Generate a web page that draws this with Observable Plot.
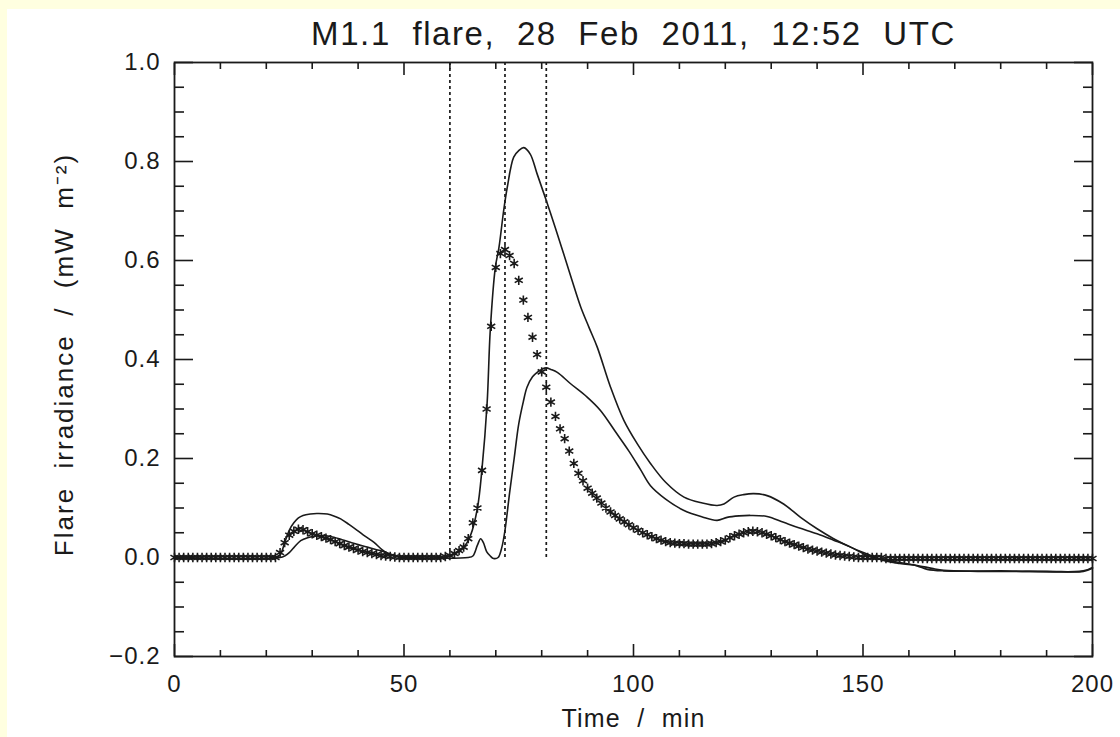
<!DOCTYPE html>
<html><head><meta charset="utf-8">
<script src="https://cdn.jsdelivr.net/npm/d3@7"></script>
<script src="https://cdn.jsdelivr.net/npm/@observablehq/plot@0.6"></script>
<style>
html,body{margin:0;padding:0;background:#ffffe0;width:1120px;height:737px;overflow:hidden}
#wrap{position:absolute;left:7px;top:9px;width:1113px;height:728px;background:#fff}
#fig{position:absolute;left:0;top:0}
</style></head><body>
<div id="wrap"><div id="fig"></div></div>
<script>
// ---- data ----
const titleText = "M1.1  flare,  28  Feb  2011,  12:52  UTC";
const xLabel = "Time  /  min";
const yLabel = "Flare  irradiance  /  (mW  m\u207B\u00B2)";

const xMajor = [0, 50, 100, 150, 200];
const xMinor = [10, 20, 30, 40, 60, 70, 80, 90, 110, 120, 130, 140, 160, 170, 180, 190];
const yMajor = [-0.2, 0.0, 0.2, 0.4, 0.6, 0.8, 1.0];
const yMinor = [-0.15, -0.1, -0.05, 0.05, 0.1, 0.15, 0.25, 0.3, 0.35, 0.45, 0.5, 0.55, 0.65, 0.7, 0.75, 0.85, 0.9, 0.95];

const markTimes = [60, 72, 81];

// upper solid curve (time, value)
const upperT = [0, 22, 23, 24, 25, 26, 27, 28, 29.6, 31, 33.3, 35, 36.2, 38, 39.8, 41.5, 43.4, 45.2, 46.5, 48, 50, 58, 60, 62, 63, 64.5, 66, 67, 68.1, 68.8, 69.9, 70.7, 71.7, 72.5, 73.9, 75, 76.1, 77.5, 79, 81, 83, 84.8, 86.6, 88.5, 90.3, 92.1, 95, 97.9, 100.8, 103.7, 107, 111, 115, 118.2, 119.7, 121.9, 124, 126.2, 129.1, 132.7, 136.4, 140, 143.6, 147.3, 150.9, 154.5, 158, 161.8, 165, 167.6, 175, 190, 198, 200];
const upperV = [0, 0, 0.005, 0.03, 0.055, 0.07, 0.08, 0.085, 0.088, 0.089, 0.088, 0.083, 0.078, 0.067, 0.055, 0.043, 0.031, 0.016, 0.008, 0.003, 0, 0, 0.003, 0.012, 0.02, 0.045, 0.1, 0.18, 0.31, 0.46, 0.586, 0.627, 0.7, 0.748, 0.809, 0.822, 0.828, 0.815, 0.775, 0.721, 0.665, 0.613, 0.56, 0.506, 0.465, 0.425, 0.344, 0.277, 0.23, 0.19, 0.152, 0.122, 0.11, 0.105, 0.108, 0.122, 0.127, 0.129, 0.125, 0.108, 0.081, 0.058, 0.038, 0.021, 0.007, -0.006, -0.012, -0.016, -0.022, -0.026, -0.028, -0.028, -0.028, -0.022];

// lower solid curve
const lowerT = [0, 23, 24, 25, 26, 27.5, 29, 31.1, 33, 34.7, 36.5, 38.3, 40, 42, 44.8, 47, 49, 51, 64, 65, 66, 66.7, 67.3, 68, 68.8, 69.5, 70.5, 71.3, 72, 73, 74, 75, 76, 76.8, 78, 79, 80, 81, 82, 83.4, 86.3, 89.9, 92.8, 96, 99, 101.5, 103.7, 107, 111, 115, 118.2, 120.4, 123, 125.5, 129.1, 132.7, 136, 140, 143.6, 147.3, 150.9, 154, 158, 161.8, 164, 167.6, 180, 198, 200];
const lowerV = [0, 0, 0.003, 0.01, 0.02, 0.034, 0.04, 0.044, 0.044, 0.041, 0.036, 0.031, 0.026, 0.021, 0.014, 0.007, 0.002, 0, 0, 0.003, 0.025, 0.038, 0.03, 0.012, 0.003, -0.002, 0, 0.02, 0.055, 0.13, 0.2, 0.27, 0.315, 0.344, 0.365, 0.374, 0.38, 0.383, 0.38, 0.374, 0.351, 0.324, 0.297, 0.255, 0.215, 0.178, 0.145, 0.118, 0.095, 0.082, 0.075, 0.081, 0.084, 0.085, 0.083, 0.071, 0.06, 0.048, 0.035, 0.021, 0.004, -0.004, -0.01, -0.017, -0.024, -0.027, -0.027, -0.027, -0.02];

// asterisk series, one sample per minute from t = 0 to 200
const starV = [
  0, 0, 0, 0, 0, 0, 0, 0, 0, 0,
  0, 0, 0, 0, 0, 0, 0, 0, 0, 0,
  0, 0, 0, 0.01, 0.03, 0.045, 0.053, 0.057, 0.056, 0.052,
  0.048, 0.045, 0.042, 0.039, 0.036, 0.032, 0.028, 0.024, 0.021, 0.018,
  0.015, 0.012, 0.01, 0.008, 0.006, 0.004, 0.003, 0.002, 0.001, 0,
  0, 0, 0, 0, 0, 0, 0, 0, 0, 0.002,
  0.004, 0.008, 0.014, 0.021, 0.038, 0.07, 0.1, 0.176, 0.3, 0.467,
  0.586, 0.614, 0.622, 0.61, 0.594, 0.56, 0.52, 0.485, 0.445, 0.41,
  0.375, 0.344, 0.314, 0.285, 0.26, 0.24, 0.215, 0.19, 0.17, 0.155,
  0.14, 0.13, 0.12, 0.11, 0.1, 0.092, 0.085, 0.078, 0.072, 0.066,
  0.06, 0.055, 0.05, 0.046, 0.042, 0.038, 0.035, 0.032, 0.03, 0.029,
  0.028, 0.028, 0.027, 0.027, 0.027, 0.027, 0.027, 0.028, 0.03, 0.032,
  0.035, 0.04, 0.044, 0.047, 0.05, 0.052, 0.053, 0.052, 0.05, 0.047,
  0.044, 0.04, 0.036, 0.032, 0.029, 0.026, 0.023, 0.02, 0.017, 0.015,
  0.013, 0.011, 0.009, 0.007, 0.005, 0.004, 0.003, 0.002, 0.001, 0,
  0, 0, 0, 0, 0, -0.002, -0.002, -0.002, -0.002, -0.002,
  -0.002, -0.002, -0.002, -0.002, -0.002, -0.002, -0.002, -0.002, -0.002, -0.002,
  -0.002, -0.002, -0.002, -0.002, -0.002, -0.002, -0.002, -0.002, -0.002, -0.002,
  -0.002, -0.002, -0.002, -0.002, -0.002, -0.002, -0.002, -0.002, -0.002, -0.002,
  -0.002, -0.002, -0.002, -0.002, -0.002, -0.002, -0.002, -0.002, -0.002, -0.002,
  -0.002
];

// ---- build tables ----
const upper = upperT.map((t, i) => ({t, v: upperV[i]}));
const lower = lowerT.map((t, i) => ({t, v: lowerV[i]}));
const stars = starV.map((v, i) => ({t: i, v}));

const ink = "#1a1a1a";
const font = "'Liberation Sans', Arial, sans-serif";
const fmtY = d3.format(".1f");

const chart = Plot.plot({
  width: 1113, height: 728,
  marginLeft: 167, marginRight: 28, marginTop: 53, marginBottom: 81,
  x: {domain: [0, 200]},
  y: {domain: [-0.2, 1.0]},
  style: {background: "transparent", fontFamily: font, color: ink, overflow: "visible"},
  marks: [
    Plot.ruleX(markTimes, {y1: 0, y2: 1.0, stroke: ink, strokeWidth: 1.7, strokeDasharray: "3,3"}),
    Plot.line(upper, {x: "t", y: "v", stroke: ink, strokeWidth: 1.6, curve: "catmull-rom"}),
    Plot.line(lower, {x: "t", y: "v", stroke: ink, strokeWidth: 1.6, curve: "catmull-rom"}),
    Plot.dot(stars, {x: "t", y: "v", symbol: "asterisk", r: 4.4, stroke: ink, strokeWidth: 1.6}),
    Plot.frame({stroke: ink, strokeWidth: 1.8}),
    // inward ticks on all sides
    Plot.axisX(xMajor, {anchor: "bottom", tickSize: -12, tickFormat: () => "", label: null, stroke: ink, strokeWidth: 1.6}),
    Plot.axisX(xMinor, {anchor: "bottom", tickSize: -6, tickFormat: () => "", label: null, stroke: ink, strokeWidth: 1.6}),
    Plot.axisX(xMajor, {anchor: "top", tickSize: -12, tickFormat: () => "", label: null, stroke: ink, strokeWidth: 1.6}),
    Plot.axisX(xMinor, {anchor: "top", tickSize: -6, tickFormat: () => "", label: null, stroke: ink, strokeWidth: 1.6}),
    Plot.axisY(yMajor, {anchor: "left", tickSize: -19, tickFormat: () => "", label: null, stroke: ink, strokeWidth: 1.6}),
    Plot.axisY(yMinor, {anchor: "left", tickSize: -10, tickFormat: () => "", label: null, stroke: ink, strokeWidth: 1.6}),
    Plot.axisY(yMajor, {anchor: "right", tickSize: -19, tickFormat: () => "", label: null, stroke: ink, strokeWidth: 1.6}),
    Plot.axisY(yMinor, {anchor: "right", tickSize: -10, tickFormat: () => "", label: null, stroke: ink, strokeWidth: 1.6}),
    // tick labels
    Plot.axisX(xMajor, {anchor: "bottom", tickSize: 0, tickPadding: 18, fontSize: 24, label: null, tickFormat: d => String(d), fill: ink}),
    Plot.axisY(yMajor, {anchor: "left", tickSize: 0, tickPadding: 14, fontSize: 24, label: null, tickFormat: fmtY, fill: ink}),
    // title and axis titles
    Plot.text([titleText], {frameAnchor: "top", dy: -28, lineAnchor: "middle", fontSize: 33, fill: ink}),
    Plot.text([xLabel], {frameAnchor: "bottom", dy: 62, lineAnchor: "middle", fontSize: 25, fill: ink}),
    Plot.text([yLabel], {frameAnchor: "left", dx: -110, dy: -5, textAnchor: "middle", lineAnchor: "middle", rotate: -90, fontSize: 26, fill: ink})
  ]
});
const sel = d3.select(chart);
sel.selectAll('g[aria-label="x-axis tick label"] text, g[aria-label="y-axis tick label"] text').style("letter-spacing", "1px");
sel.selectAll('g[aria-label="text"] text').each(function() {
  const s = this.textContent;
  const ls = s === titleText ? "1.6px" : s === xLabel ? "1.2px" : "2px";
  d3.select(this).style("letter-spacing", ls);
});
document.getElementById("fig").appendChild(chart);
</script>
</body></html>
